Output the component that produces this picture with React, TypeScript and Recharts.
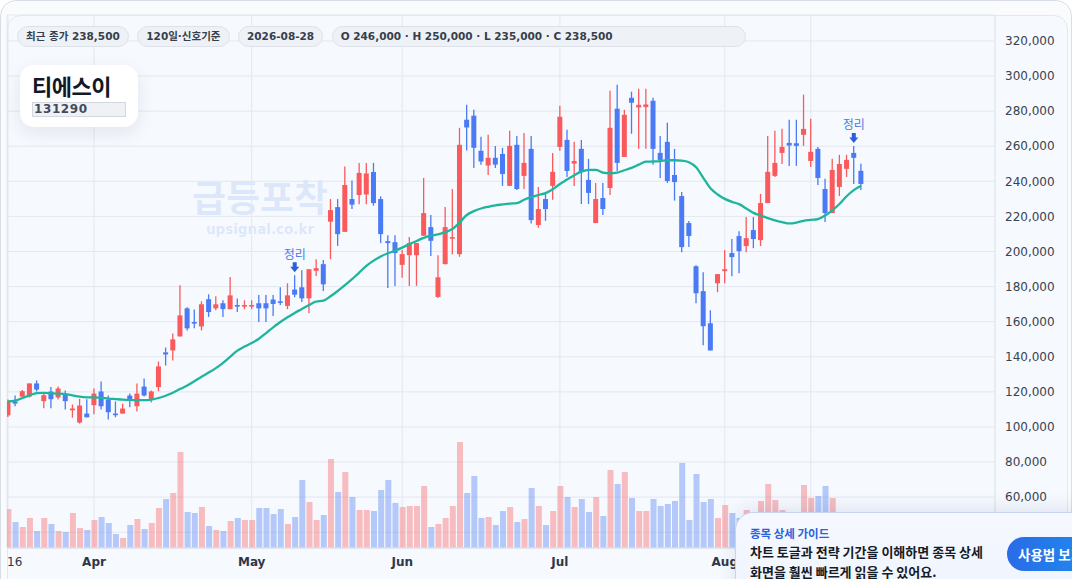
import React from 'react';
import { Bar, CartesianGrid, Cell, ComposedChart, Line, XAxis, YAxis } from 'recharts';

// 120 trading days, 2026-03-16 .. 2026-08-28 (index = trading day)
const OPEN = [
  106600, 114500, 117300, 117300, 124800, 114700, 120200, 116800, 118800, 109500,
  102500, 107600, 112400, 120200, 115600, 107600, 107600, 117900, 111800, 123000,
  115600, 122700, 142500, 143600, 151600, 167600, 159800, 157300, 172800, 167600,
  170500, 167100, 169500, 169000, 169000, 170500, 170500, 172600, 171600, 169000,
  178300, 179600, 173300, 189000, 192800, 217000, 225300, 211200, 229900, 232200,
  232500, 245300, 229900, 205900, 205300, 192400, 197900, 197900, 209000, 213900,
  174100, 192800, 207400, 198500, 275100, 277400, 257400, 249000, 253400, 255600,
  237400, 260800, 243100, 258500, 215100, 229900, 237400, 259600, 263600, 250100,
  258500, 240800, 216200, 230500, 236200, 281400, 253900, 287600, 282100, 282300,
  285900, 256200, 262500, 243600, 231600, 216200, 191600, 177400, 159100, 181900,
  188800, 199100, 208800, 203100, 212200, 206500, 227600, 243100, 256200, 261900,
  261700, 266500, 251600, 258500, 235600, 221900, 236800, 247100, 256200, 246000,
];
const HIGH = [
  115600, 117900, 121000, 124800, 126500, 119400, 122700, 123000, 120800, 112800,
  116000, 115800, 121900, 125900, 117900, 114500, 113300, 119000, 124800, 127600,
  120800, 137300, 145300, 153300, 180800, 168200, 167000, 171600, 175600, 174500,
  172200, 185500, 173200, 172200, 172200, 175200, 175200, 175200, 179600, 181900,
  186500, 189300, 189900, 195600, 195200, 229900, 229900, 248400, 240400, 250500,
  250500, 250500, 231400, 209300, 209300, 200800, 208200, 204800, 241900, 220800,
  197900, 225300, 235600, 270500, 283600, 280800, 265400, 266500, 260200, 259100,
  268800, 265900, 267600, 265900, 236800, 232800, 256200, 283100, 269400, 262500,
  263600, 252800, 239100, 239100, 291600, 295100, 280800, 291100, 292800, 292800,
  287600, 265900, 273400, 258500, 233900, 217400, 192200, 188200, 166500, 187100,
  200800, 207100, 211600, 219600, 219600, 232800, 265900, 268800, 269900, 275100,
  275100, 289400, 275600, 259600, 241400, 252800, 255100, 255100, 260200, 250000,
];
const LOW = [
  105700, 111800, 117000, 116800, 120200, 110700, 110700, 115600, 109900, 105300,
  101900, 105500, 107200, 109900, 104200, 105500, 107600, 111200, 108800, 117300,
  113900, 120400, 135000, 137900, 151600, 155000, 156200, 155000, 162700, 166500,
  162700, 167100, 165500, 167100, 167100, 159800, 159800, 163200, 169500, 167100,
  173900, 171200, 164800, 186100, 177500, 195600, 203200, 211200, 224200, 226900,
  226900, 226100, 204800, 179200, 180400, 185000, 180400, 180400, 209000, 197500,
  173500, 192800, 198500, 197000, 257500, 247600, 249400, 243600, 247600, 237400,
  237400, 235100, 235600, 216000, 213500, 217500, 229500, 257400, 242500, 237400,
  227100, 227100, 216200, 220800, 232200, 245900, 253900, 267100, 258500, 258500,
  249400, 241900, 239100, 229000, 199600, 202500, 170500, 146500, 143600, 176800,
  181900, 185900, 187600, 199600, 201900, 203100, 227600, 242500, 249900, 248800,
  248800, 260200, 248200, 237900, 216800, 221900, 231600, 242500, 238500, 235000,
];
const CLOSE = [
  114600, 113300, 120400, 124800, 121300, 118100, 115800, 121900, 114700, 110500,
  112200, 105500, 119000, 111800, 108400, 107000, 110500, 114900, 119000, 117900,
  120200, 134500, 141300, 149900, 163600, 156200, 159200, 169900, 165500, 169900,
  167200, 175000, 169000, 169500, 169500, 167600, 167600, 170100, 171100, 175000,
  175400, 173300, 189900, 190500, 181300, 223600, 209900, 237900, 226700, 244800,
  244500, 227600, 209900, 204800, 199100, 198500, 204800, 204800, 221900, 206100,
  185300, 213900, 208200, 260800, 270700, 259100, 251300, 253400, 249500, 244200,
  260200, 235600, 250500, 217900, 224200, 224200, 245400, 276800, 245900, 251600,
  245400, 233400, 229900, 224200, 270500, 250500, 277900, 284800, 283600, 283800,
  258500, 252200, 240200, 239600, 202500, 208800, 176200, 157400, 143600, 187100,
  189900, 196800, 200200, 207600, 207100, 227600, 245400, 250500, 259600, 260400,
  260200, 269900, 256800, 241900, 221900, 246500, 249900, 252200, 253400, 238500,
];
const MA = [
  114600, 115000, 116500, 118000, 119300, 119400, 119200, 119000, 118700, 118000,
  117300, 116900, 116800, 116600, 116200, 115900, 115600, 115400, 115300, 115300,
  115600, 116500, 117800, 119500, 121600, 123600, 126000, 128600, 131000, 133500,
  136500, 140000, 143500, 145800, 147800, 150300, 153500, 156800, 159800, 162500,
  165000, 167200, 169500, 171500, 172000, 174500, 177500, 180800, 184200, 188000,
  191800, 194800, 197200, 199000, 200400, 202200, 204200, 206000, 207800, 209000,
  209700, 211000, 212800, 216500, 220800, 223000, 224500, 225500, 226300, 226800,
  227300, 227600, 229500, 231000, 232200, 233300, 235500, 238500, 241000, 243500,
  245500, 246500, 246500, 245000, 244600, 245000, 246300, 247700, 249500, 251200,
  251300, 251500, 252000, 252000, 251800, 250900, 248000, 242000, 236000, 232500,
  230000, 228300, 227000, 224500, 222000, 220500, 219000, 217800, 216800, 216000,
  216500, 217500, 218000, 218500, 220500, 223500, 227100, 231500, 235000, 237500,
];
const VOLUME = [
  390000, 260000, 210000, 300000, 170000, 300000, 240000, 170000, 160000, 350000,
  200000, 180000, 280000, 310000, 250000, 140000, 100000, 230000, 290000, 190000,
  250000, 400000, 490000, 550000, 960000, 360000, 350000, 410000, 220000, 180000,
  170000, 270000, 300000, 280000, 280000, 400000, 400000, 340000, 390000, 240000,
  310000, 680000, 460000, 280000, 330000, 890000, 560000, 760000, 510000, 380000,
  380000, 370000, 580000, 680000, 450000, 410000, 420000, 420000, 620000, 210000,
  240000, 300000, 420000, 1060000, 550000, 720000, 300000, 310000, 230000, 370000,
  410000, 260000, 290000, 600000, 420000, 230000, 370000, 620000, 510000, 410000,
  490000, 360000, 510000, 320000, 780000, 640000, 760000, 500000, 370000, 370000,
  490000, 420000, 440000, 470000, 850000, 280000, 740000, 460000, 490000, 300000,
  430000, 350000, 300000, 380000, 280000, 470000, 640000, 480000, 380000, 260000,
  300000, 630000, 500000, 520000, 620000, 500000, 300000, 260000, 320000, 280000,
];

const SIGNAL_DAYS = [40, 118];
const SIGNAL_LABEL = '정리';

const X_TICKS = [0, 12, 34, 55, 77, 100, 112];
const X_TICK_LABELS = ['16', 'Apr', 'May', 'Jun', 'Jul', 'Aug', ''];
const PRICE_TICKS = [
  40000, 60000, 80000, 100000, 120000, 140000, 160000, 180000, 200000, 220000, 240000,
  260000, 280000, 300000, 320000,
];

const HEADER_CHIPS = ['최근 종가 238,500', '120일·신호기준', '2026-08-28'];
const OHLC_CHIP = 'O 246,000 · H 250,000 · L 235,000 · C 238,500';

const UP = '#fa5a5c';
const DOWN = '#4a7bf4';
const FONT = '"DejaVu Sans", "Noto Sans CJK KR", sans-serif';
const KR_FONT = '"Noto Sans CJK KR", "DejaVu Sans", sans-serif';

const rows = OPEN.map((open, i) => ({
  i,
  open,
  high: HIGH[i],
  low: LOW[i],
  close: CLOSE[i],
  ma: MA[i],
  volume: VOLUME[i],
  up: CLOSE[i] >= open,
  sig: SIGNAL_DAYS.includes(i) ? HIGH[i] : null,
}));

function Candle(props: any) {
  const { x, y, width, height, payload } = props;
  if (x == null || y == null || !payload) return null;
  const top = Math.min(y, y + height);
  const bottom = Math.max(y, y + height);
  const { open, high, low, close } = payload;
  const span = high - low;
  const py = (v: number) => (span > 0 ? top + ((high - v) / span) * (bottom - top) : top);
  const color = close >= open ? UP : DOWN;
  const cx = x + width / 2;
  const bodyTop = py(Math.max(open, close));
  const bodyH = Math.max(1.6, py(Math.min(open, close)) - bodyTop);
  return (
    <g>
      <line x1={cx} x2={cx} y1={top} y2={bottom} stroke={color} strokeWidth={1.3} />
      <rect x={x} y={bodyTop} width={width} height={bodyH} fill={color} />
    </g>
  );
}

function SignalMark(props: any) {
  const { cx, cy, index, payload } = props;
  if (payload?.sig == null || cx == null || cy == null) return <g key={`sig-${index}`} />;
  const tip = cy - 3;
  const d = `M${cx - 2},${tip - 10} L${cx + 2},${tip - 10} L${cx + 2},${tip - 5.5} L${cx + 4.5},${tip - 5.5} L${cx},${tip} L${cx - 4.5},${tip - 5.5} L${cx - 2},${tip - 5.5} Z`;
  return (
    <g key={`sig-${index}`}>
      <text
        x={cx}
        y={tip - 19}
        textAnchor="middle"
        dominantBaseline="central"
        fontSize={12}
        fill="#4b7be3"
        fontFamily={KR_FONT}
      >
        {SIGNAL_LABEL}
      </text>
      <path d={d} fill="#2c5fd8" />
    </g>
  );
}

function XTick(props: any) {
  const { x, y, payload } = props;
  const label = X_TICK_LABELS[X_TICKS.indexOf(payload.value)];
  if (!label) return null;
  const first = payload.value === 0;
  return (
    <text
      x={first ? x - 1 : x}
      y={y + 18}
      textAnchor={first ? 'start' : 'middle'}
      fontSize={12}
      fontWeight={first ? 400 : 700}
      fill="#2f3747"
      fontFamily={FONT}
    >
      {label}
    </text>
  );
}

const chipStyle: React.CSSProperties = {
  boxSizing: 'border-box',
  height: 21,
  lineHeight: '19px',
  padding: '0 8px',
  border: '1px solid #dde2ea',
  background: '#eef1f6',
  borderRadius: 11,
  fontSize: 10.5,
  fontWeight: 700,
  color: '#363e4b',
  whiteSpace: 'nowrap',
};

export default function App() {
  return (
    <div
      style={{
        position: 'fixed',
        left: 0,
        top: 0,
        width: 1072,
        height: 579,
        overflow: 'hidden',
        background: '#ffffff',
        fontFamily: FONT,
      }}
    >
      {/* outer card + inner panel */}
      <div
        style={{
          position: 'absolute',
          left: 0,
          top: 0,
          width: 1072,
          height: 640,
          boxSizing: 'border-box',
          border: '1px solid #d8dee8',
          borderRadius: 16,
          background: '#fafbfd',
        }}
      />
      <div
        style={{
          position: 'absolute',
          left: 7,
          top: 15,
          width: 1061,
          height: 640,
          boxSizing: 'border-box',
          border: '1px solid #e3e8ef',
          borderRadius: 14,
          background: '#f6f9fe',
        }}
      />

      {/* watermark */}
      <div
        style={{
          position: 'absolute',
          left: 160,
          top: 171,
          width: 200,
          textAlign: 'center',
          color: 'rgba(90,135,230,0.16)',
          fontWeight: 700,
        }}
      >
        <div style={{ fontFamily: KR_FONT, fontSize: 37, lineHeight: '50px' }}>급등포착</div>
        <div style={{ fontFamily: FONT, fontSize: 13.5, lineHeight: '16px' }}>upsignal.co.kr</div>
      </div>

      <div style={{ position: 'absolute', left: 0, top: 0 }}>
        <ComposedChart
          width={1072}
          height={579}
          data={rows}
          margin={{ top: 15, right: 0, bottom: 0, left: 7 }}
        >
          <CartesianGrid xAxisId="p" yAxisId="price" stroke="#e3e8ef" strokeWidth={1} />
          <XAxis
            xAxisId="p"
            type="number"
            dataKey="i"
            domain={[-0.14, 137.7]}
            ticks={X_TICKS}
            allowDataOverflow
            height={31}
            tickSize={0}
            tickMargin={0}
            tickLine={false}
            axisLine={{ stroke: '#dde3eb', strokeWidth: 1.5 }}
            tick={<XTick />}
            interval={0}
          />
          <XAxis
            xAxisId="v"
            type="number"
            dataKey="i"
            domain={[-0.14, 137.7]}
            allowDataOverflow
            hide
          />
          <YAxis
            yAxisId="price"
            orientation="right"
            domain={[31000, 334800]}
            ticks={PRICE_TICKS}
            allowDataOverflow
            width={77}
            tickSize={0}
            tickMargin={10}
            tickLine={false}
            axisLine={{ stroke: '#e3e7ee' }}
            tick={{ fontSize: 12, fill: '#3a4250', fontFamily: FONT }}
            tickFormatter={(v: number) => v.toLocaleString('en-US')}
            interval={0}
          />
          <YAxis yAxisId="vol" hide domain={[0, 5330000]} allowDataOverflow />

          <Bar
            xAxisId="v"
            yAxisId="vol"
            dataKey="volume"
            barSize={6}
            fillOpacity={0.38}
            isAnimationActive={false}
          >
            {rows.map((r) => (
              <Cell key={`v-${r.i}`} fill={r.up ? UP : DOWN} />
            ))}
          </Bar>
          <Line
            xAxisId="p"
            yAxisId="price"
            type="monotone"
            dataKey="ma"
            stroke="#1fb59c"
            strokeWidth={2.3}
            dot={false}
            activeDot={false}
            isAnimationActive={false}
          />
          <Bar
            xAxisId="p"
            yAxisId="price"
            dataKey={(d: any) => [d.low, d.high]}
            barSize={5}
            shape={<Candle />}
            isAnimationActive={false}
          />
          <Line
            xAxisId="p"
            yAxisId="price"
            dataKey="sig"
            stroke="none"
            dot={SignalMark}
            activeDot={false}
            isAnimationActive={false}
          />
        </ComposedChart>
      </div>

      {/* header chips */}
      <div
        style={{
          position: 'absolute',
          left: 17,
          top: 26,
          width: 729,
          display: 'flex',
          gap: 8.5,
        }}
      >
        {HEADER_CHIPS.map((c) => (
          <div key={c} style={chipStyle}>
            {c}
          </div>
        ))}
        <div style={{ ...chipStyle, flex: 1 }}>{OHLC_CHIP}</div>
      </div>

      {/* title card */}
      <div
        style={{
          position: 'absolute',
          left: 20,
          top: 65,
          width: 118,
          height: 62,
          boxSizing: 'border-box',
          borderRadius: 14,
          background: '#ffffff',
          boxShadow: '0 6px 18px rgba(20,40,80,0.09)',
          padding: '5px 0 0 12px',
        }}
      >
        <div
          style={{
            fontFamily: KR_FONT,
            fontSize: 22,
            fontWeight: 700,
            color: '#121826',
            lineHeight: '30px',
            letterSpacing: -0.5,
          }}
        >
          티에스이
        </div>
        <div
          style={{
            marginTop: 2,
            width: 94,
            height: 15,
            boxSizing: 'border-box',
            border: '1px solid #d3d8e0',
            background: '#eff1f5',
            fontSize: 12,
            fontWeight: 700,
            lineHeight: '13px',
            color: '#434b5a',
            paddingLeft: 1,
            letterSpacing: 0.6,
          }}
        >
          131290
        </div>
      </div>

      {/* guide popup */}
      <div
        style={{
          position: 'absolute',
          left: 735,
          top: 512,
          width: 420,
          height: 110,
          boxSizing: 'border-box',
          border: '1px solid #c6d4ee',
          borderRadius: 18,
          background: 'linear-gradient(180deg, #f5f8ff 0%, #eef3fd 100%)',
          boxShadow: '0 -3px 18px rgba(30,60,130,0.12)',
          padding: '11px 0 0 14px',
          fontFamily: KR_FONT,
        }}
      >
        <div style={{ fontSize: 11.5, fontWeight: 700, color: '#2a62de', lineHeight: '18px' }}>
          종목 상세 가이드
        </div>
        <div
          style={{
            fontSize: 13,
            fontWeight: 700,
            color: '#151b27',
            lineHeight: '20px',
            marginTop: 0,
          }}
        >
          차트 토글과 전략 기간을 이해하면 종목 상세
          <br />
          화면을 훨씬 빠르게 읽을 수 있어요.
        </div>
        <div
          style={{
            position: 'absolute',
            left: 271,
            top: 24,
            width: 100,
            height: 34,
            borderRadius: 17,
            background: 'linear-gradient(90deg, #2a6be6 0%, #1d8ff0 100%)',
            color: '#ffffff',
            fontSize: 13.5,
            fontWeight: 700,
            lineHeight: '34px',
            paddingLeft: 11,
            boxSizing: 'border-box',
            whiteSpace: 'nowrap',
          }}
        >
          사용법 보기
        </div>
      </div>
    </div>
  );
}
